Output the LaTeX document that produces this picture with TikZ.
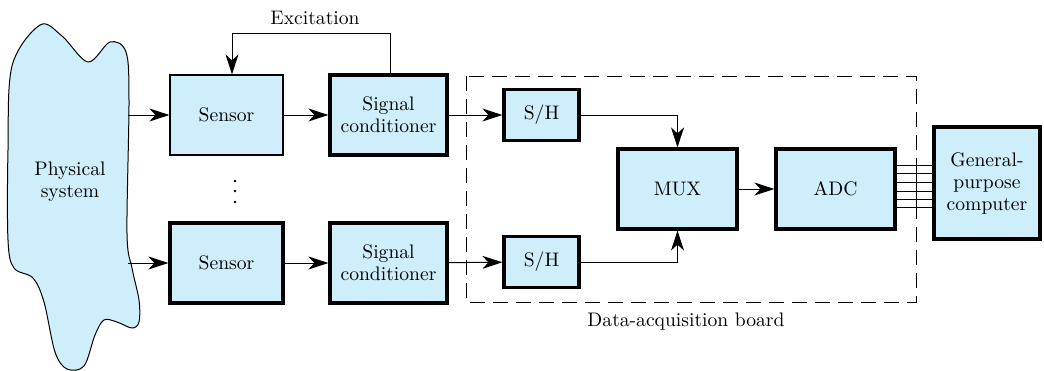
\documentclass[tikz,border=0pt]{standalone}
\usepackage{fontspec}
\setmainfont{Latin Modern Roman}
\usetikzlibrary{arrows.meta}
\usepackage{xcolor}
\definecolor{boxfill}{RGB}{205,238,250}

\begin{document}
\begin{tikzpicture}[x=0.5pt, y=-0.5pt, font=\rmfamily\fontsize{9.8}{11}\selectfont,
    blk/.style={draw, line width=1.6pt, fill=boxfill, inner sep=0pt, align=center},
    thinblk/.style={blk, line width=0.6pt},
    arr/.style={-{Stealth[length=10pt, width=6.5pt, inset=3pt]}, line width=0.5pt},
    wire/.style={line width=0.5pt}]
    \useasboundingbox (0,0) rectangle (1044,370);
    % physical system blob
    \draw[wire, fill=boxfill] plot[smooth cycle, tension=0.55] coordinates {
        (40,25) (62,36) (88,62) (110,42) (126,52) (129,100) (127,233) (132,268)
        (139,300) (139,322) (132,328) (117,322) (104,320) (95,335) (84,366)
        (67,369) (55,352) (44,302) (33,278) (14,268) (8,240) (8,150) (12,66)};
    \node[align=center] (phys) at (70,182) {Physical\\system};
    \coordinate (p1) at (128,115);
    \coordinate (p2) at (128,263);
    % blocks
    \node[thinblk, minimum width=56.5pt, minimum height=40pt] (sen1) at (226.5,115) {Sensor};
    \node[blk, minimum width=56.5pt, minimum height=40pt] (sen2) at (226.5,263) {Sensor};
    \node[blk, minimum width=58.5pt, minimum height=40pt] (sc1) at (388.5,115) {Signal\\conditioner};
    \node[blk, minimum width=58.5pt, minimum height=40pt] (sc2) at (388.5,263) {Signal\\conditioner};
    \node[blk, minimum width=37.5pt, minimum height=25.5pt] (sh1) at (541.5,115) {S/H};
    \node[blk, minimum width=37.5pt, minimum height=25.5pt] (sh2) at (541.5,262) {S/H};
    \node[blk, minimum width=59.5pt, minimum height=40pt] (mux) at (677.5,189) {MUX};
    \node[blk, minimum width=59.5pt, minimum height=40pt] (adc) at (835.5,189) {ADC};
    \node[blk, minimum width=53pt, minimum height=56pt] (pc) at (987,183) {General-\\purpose\\computer};
    % board
    \draw[wire, dash pattern=on 7.5pt off 4pt] (466,76) rectangle (916,302);
    \node (board) at (686,322) {Data-acquisition board};
    % excitation loop
    \node (exc) at (315,18) {Excitation};
    \draw[arr] (sc1.north -| 390,0) -- (390,33) -- (232,33) -- (sen1.north -| 232,0);
    % dots
    \foreach \y in {181,191,202} \fill (235,\y) circle (1.4);
    % signal paths
    \draw[arr] (p1) -- (sen1);
    \draw[arr] (p2) -- (sen2);
    \draw[arr] (sen1) -- (sc1);
    \draw[arr] (sen2) -- (sc2);
    \draw[arr] (sc1) -- (sh1);
    \draw[arr] (sc2) -- (sh2);
    \draw[arr] (sh1) -| (mux);
    \draw[arr] (sh2) -| (mux);
    \draw[arr] (mux) -- (adc);
    % output bus
    \foreach \y in {165,173,182,191,199,207}
        \draw[wire] (adc.east |- 0,\y) -- (pc.west |- 0,\y);
    \draw[wire] (916,165) -- (916,207);
\end{tikzpicture}
\end{document}
